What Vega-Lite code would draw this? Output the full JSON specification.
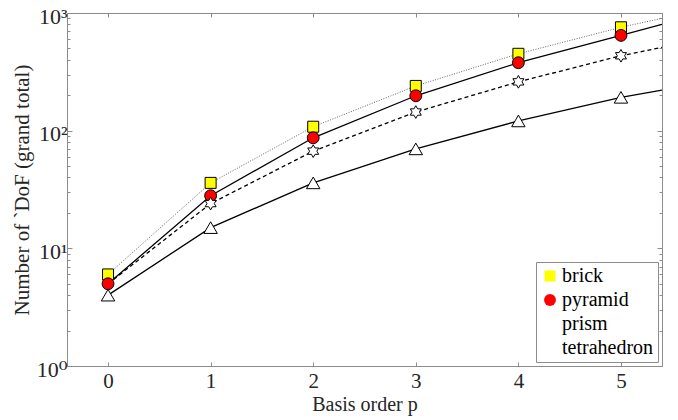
{
  "$schema": "https://vega.github.io/schema/vega-lite/v6.json",
  "width": 595,
  "height": 353,
  "autosize": {"type": "none"},
  "padding": {"left": 67, "top": 13, "right": 16, "bottom": 54},
  "background": "white",
  "config": {
    "font": "Liberation Serif, Times New Roman, DejaVu Serif, serif",
    "view": {"stroke": "#8c8c8c", "strokeWidth": 1},
    "axis": {"grid": false, "domain": false, "tickColor": "#8c8c8c", "labelColor": "#262626", "titleColor": "#262626", "labelFont": "Liberation Serif, Times New Roman, DejaVu Serif, serif", "titleFont": "Liberation Serif, Times New Roman, DejaVu Serif, serif", "titleFontWeight": "normal"},
    "legend": {"orient": "bottom-right", "offset": 4, "labelFont": "Liberation Serif, Times New Roman, DejaVu Serif, serif", "labelFontSize": 20, "labelColor": "#000000", "strokeColor": "#8c8c8c", "fillColor": "#ffffff", "padding": 4, "rowPadding": 4, "labelOffset": 2, "symbolStrokeColor": "#000000", "symbolStrokeWidth": 1}
  },
  "data": {
    "values": [
      {"element": "brick", "p": 0, "dof": 6},
      {"element": "brick", "p": 1, "dof": 36},
      {"element": "brick", "p": 2, "dof": 108},
      {"element": "brick", "p": 3, "dof": 240},
      {"element": "brick", "p": 4, "dof": 450},
      {"element": "brick", "p": 5, "dof": 756},
      {"element": "brick", "p": 5.4, "dof": 900},
      {"element": "pyramid", "p": 0, "dof": 5},
      {"element": "pyramid", "p": 1, "dof": 28},
      {"element": "pyramid", "p": 2, "dof": 87},
      {"element": "pyramid", "p": 3, "dof": 198},
      {"element": "pyramid", "p": 4, "dof": 378},
      {"element": "pyramid", "p": 5, "dof": 645},
      {"element": "pyramid", "p": 5.4, "dof": 800},
      {"element": "prism", "p": 0, "dof": 5},
      {"element": "prism", "p": 1, "dof": 24},
      {"element": "prism", "p": 2, "dof": 67},
      {"element": "prism", "p": 3, "dof": 144},
      {"element": "prism", "p": 4, "dof": 260},
      {"element": "prism", "p": 5, "dof": 433},
      {"element": "prism", "p": 5.4, "dof": 510},
      {"element": "tetrahedron", "p": 0, "dof": 4},
      {"element": "tetrahedron", "p": 1, "dof": 15},
      {"element": "tetrahedron", "p": 2, "dof": 36},
      {"element": "tetrahedron", "p": 3, "dof": 70},
      {"element": "tetrahedron", "p": 4, "dof": 121},
      {"element": "tetrahedron", "p": 5, "dof": 192},
      {"element": "tetrahedron", "p": 5.4, "dof": 221}
    ]
  },
  "resolve": {"axis": {"x": "independent", "y": "independent"}},
  "layer": [
    {
      "transform": [{"filter": "datum.element == 'brick'"}],
      "mark": {"type": "line", "clip": true, "stroke": "#555555", "strokeDash": [1, 1.5], "strokeWidth": 0.9},
      "encoding": {
        "x": {
          "field": "p", "type": "quantitative",
          "scale": {"domain": [-0.4, 5.4], "nice": false, "zero": false},
          "axis": {"orient": "bottom", "values": [0, 1, 2, 3, 4, 5], "title": "Basis order p", "titleFontSize": 20, "labelFontSize": 21, "tickSize": -4, "labelPadding": 8, "titlePadding": 3}
        },
        "y": {
          "field": "dof", "type": "quantitative",
          "scale": {"type": "log", "domain": [1, 1000], "nice": false},
          "axis": {
            "orient": "left",
            "values": [1, 2, 3, 4, 5, 6, 7, 8, 9, 10, 20, 30, 40, 50, 60, 70, 80, 90, 100, 200, 300, 400, 500, 600, 700, 800, 900, 1000],
            "labelExpr": "datum.value == 1 ? '10⁰' : datum.value == 10 ? '10¹' : datum.value == 100 ? '10²' : datum.value == 1000 ? '10³' : ''",
            "title": "Number of `DoF (grand total)",
            "titleFontSize": 21,
            "labelFontSize": 22,
            "labelOffset": 3,
            "tickSize": {"condition": {"test": "datum.value == 1 || datum.value == 10 || datum.value == 100 || datum.value == 1000", "value": -5}, "value": -3},
            "labelPadding": 5,
            "titlePadding": 4
          }
        }
      }
    },
    {
      "transform": [{"filter": "datum.element == 'pyramid'"}],
      "mark": {"type": "line", "clip": true, "stroke": "#000000", "strokeWidth": 1.3},
      "encoding": {
        "x": {"field": "p", "type": "quantitative", "axis": null},
        "y": {"field": "dof", "type": "quantitative", "axis": null}
      }
    },
    {
      "transform": [{"filter": "datum.element == 'prism'"}],
      "mark": {"type": "line", "clip": true, "stroke": "#000000", "strokeDash": [4, 3], "strokeWidth": 1.3},
      "encoding": {
        "x": {"field": "p", "type": "quantitative", "axis": null},
        "y": {"field": "dof", "type": "quantitative", "axis": null}
      }
    },
    {
      "transform": [{"filter": "datum.element == 'tetrahedron'"}],
      "mark": {"type": "line", "clip": true, "stroke": "#000000", "strokeWidth": 1.3},
      "encoding": {
        "x": {"field": "p", "type": "quantitative", "axis": null},
        "y": {"field": "dof", "type": "quantitative", "axis": null}
      }
    },
    {
      "transform": [{"filter": "datum.p <= 5 && !(datum.element == 'prism' && datum.p == 0)"}],
      "mark": {"type": "point", "filled": true, "stroke": "black", "strokeWidth": 1, "opacity": 1},
      "encoding": {
        "x": {
          "field": "p", "type": "quantitative",
          "axis": {"orient": "top", "values": [0, 1, 2, 3, 4, 5], "labels": false, "title": null, "tickSize": -4}
        },
        "y": {
          "field": "dof", "type": "quantitative",
          "axis": {
            "orient": "right",
            "values": [1, 2, 3, 4, 5, 6, 7, 8, 9, 10, 20, 30, 40, 50, 60, 70, 80, 90, 100, 200, 300, 400, 500, 600, 700, 800, 900, 1000],
            "labels": false, "title": null,
            "tickSize": {"condition": {"test": "datum.value == 1 || datum.value == 10 || datum.value == 100 || datum.value == 1000", "value": -5}, "value": -3}
          }
        },
        "shape": {"field": "element", "type": "nominal", "scale": {"domain": ["brick", "pyramid", "prism", "tetrahedron"], "range": ["square", "circle", "M0,-1L0.289,-0.5L0.866,-0.5L0.577,0L0.866,0.5L0.289,0.5L0,1L-0.289,0.5L-0.866,0.5L-0.577,0L-0.866,-0.5L-0.289,-0.5Z", "triangle-up"]}, "title": null,
          "legend": {"symbolStrokeColor": "#000000", "symbolStrokeWidth": 1, "encode": {"symbols": {"update": {"stroke": {"value": "#000000"}, "strokeWidth": {"value": 1}, "opacity": {"value": 1}}}}}},
        "fill": {"field": "element", "type": "nominal", "scale": {"domain": ["brick", "pyramid", "prism", "tetrahedron"], "range": ["#ffff00", "#ff0000", "#ffffff", "#ffffff"]}, "title": null,
          "legend": {"symbolStrokeColor": "#000000", "symbolStrokeWidth": 1, "encode": {"symbols": {"update": {"stroke": {"value": "#000000"}, "strokeWidth": {"value": 1}, "opacity": {"value": 1}}}}}},
        "size": {"field": "element", "type": "nominal", "scale": {"domain": ["brick", "pyramid", "prism", "tetrahedron"], "range": [121, 180, 169, 180]}, "title": null,
          "legend": {"symbolStrokeColor": "#000000", "symbolStrokeWidth": 1, "encode": {"symbols": {"update": {"stroke": {"value": "#000000"}, "strokeWidth": {"value": 1}, "opacity": {"value": 1}}}}}}
      }
    }
  ]
}
